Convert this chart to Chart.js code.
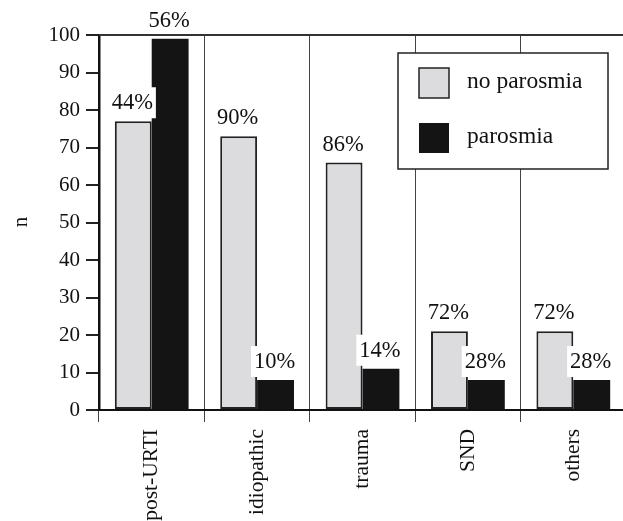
<!DOCTYPE html>
<html>
<head>
<meta charset="utf-8">
<script src="https://cdn.jsdelivr.net/npm/chart.js@4/dist/chart.umd.min.js"></script>
<style>
  body { margin: 0; background: #fff; }
  #wrap { width: 623px; height: 521px; overflow: hidden; }
</style>
</head>
<body>
<div id="wrap"><canvas id="chart" width="626" height="521"></canvas></div>
<script>
// Data
const categories = ['post-URTI', 'idiopathic', 'trauma', 'SND', 'others'];
const noParosmia = [77, 73, 66, 21, 21];
const parosmia = [99, 8, 11, 8, 8];
const noParosmiaPct = ['44%', '90%', '86%', '72%', '72%'];
const parosmiaPct = ['56%', '10%', '14%', '28%', '28%'];
const yTicks = [0, 10, 20, 30, 40, 50, 60, 70, 80, 90, 100];
const seriesNames = ['no parosmia', 'parosmia'];

const SERIF = "'Liberation Serif', 'DejaVu Serif', serif";
const GRAY = '#dcdcdf';
const BLACK = '#141414';

Chart.defaults.font.family = SERIF;
Chart.defaults.color = '#111';

// Percent labels, frame, legend and axis title
const decorations = {
  id: 'decorations',
  afterDatasetsDraw(chart) {
    const ctx = chart.ctx;
    const labels = [noParosmiaPct, parosmiaPct];
    ctx.save();
    ctx.font = '22.5px ' + SERIF;
    ctx.textAlign = 'center';
    ctx.textBaseline = 'alphabetic';
    chart.data.datasets.forEach((ds, di) => {
      chart.getDatasetMeta(di).data.forEach((bar, i) => {
        const txt = labels[di][i];
        const w = ctx.measureText(txt).width;
        const x = bar.x - 1;
        const base = bar.y - 12;
        ctx.fillStyle = '#fff';
        ctx.fillRect(x - w / 2 - 3, base - 22, w + 6, 31);
        ctx.fillStyle = '#111';
        ctx.fillText(txt, x, base);
      });
    });
    ctx.restore();
  },
  afterDraw(chart) {
    const ctx = chart.ctx;
    const area = chart.chartArea;
    ctx.save();
    // top frame line
    ctx.strokeStyle = '#333';
    ctx.lineWidth = 2;
    ctx.beginPath();
    ctx.moveTo(area.left, area.top);
    ctx.lineTo(area.right, area.top);
    ctx.stroke();

    // legend
    const lx = 398, ly = 53, lw = 210, lh = 116;
    ctx.fillStyle = '#fff';
    ctx.fillRect(lx, ly, lw, lh);
    ctx.strokeStyle = '#222';
    ctx.lineWidth = 1.5;
    ctx.strokeRect(lx, ly, lw, lh);
    const fills = [GRAY, BLACK];
    ctx.font = '23.5px ' + SERIF;
    ctx.textAlign = 'left';
    ctx.textBaseline = 'middle';
    seriesNames.forEach((name, i) => {
      const sy = 68 + i * 55;
      ctx.fillStyle = fills[i];
      ctx.fillRect(419, sy, 30, 30);
      if (i === 0) {
        ctx.strokeStyle = '#222';
        ctx.lineWidth = 1.5;
        ctx.strokeRect(419, sy, 30, 30);
      }
      ctx.fillStyle = '#111';
      ctx.fillText(name, 467, sy + 14);
    });

    // y axis title
    ctx.translate(21, 222);
    ctx.rotate(-Math.PI / 2);
    ctx.font = '21px ' + SERIF;
    ctx.textAlign = 'center';
    ctx.fillText('n', 0, 0);
    ctx.restore();
  }
};

new Chart(document.getElementById('chart'), {
  type: 'bar',
  data: {
    labels: categories,
    datasets: [
      {
        label: seriesNames[0],
        data: noParosmia,
        backgroundColor: GRAY,
        borderColor: '#222',
        borderWidth: 2,
        borderSkipped: false
      },
      {
        label: seriesNames[1],
        data: parosmia,
        backgroundColor: BLACK,
        borderColor: BLACK,
        borderWidth: 0
      }
    ]
  },
  options: {
    responsive: false,
    animation: false,
    layout: { padding: { top: 35, right: 0, left: 0, bottom: 0 } },
    categoryPercentage: 0.7,
    barPercentage: 1.0,
    plugins: {
      legend: { display: false },
      tooltip: { enabled: false }
    },
    scales: {
      x: {
        offset: true,
        grid: {
          offset: true,
          color: '#444',
          lineWidth: 1,
          drawOnChartArea: true,
          drawTicks: true,
          tickLength: 12
        },
        border: { color: '#111', width: 2 },
        ticks: {
          minRotation: 90,
          maxRotation: 90,
          padding: 7,
          font: { size: 21.5 }
        },
        afterFit(scale) { scale.height = 111; }
      },
      y: {
        min: 0,
        max: 100,
        afterBuildTicks(scale) { scale.ticks = yTicks.map(v => ({ value: v })); },
        grid: {
          drawOnChartArea: false,
          drawTicks: true,
          tickLength: 13,
          color: '#222',
          lineWidth: 2
        },
        border: { color: '#111', width: 2.5 },
        ticks: {
          padding: 6,
          font: { size: 21 }
        },
        afterFit(scale) { scale.width = 99; }
      }
    }
  },
  plugins: [decorations]
});
</script>
</body>
</html>
